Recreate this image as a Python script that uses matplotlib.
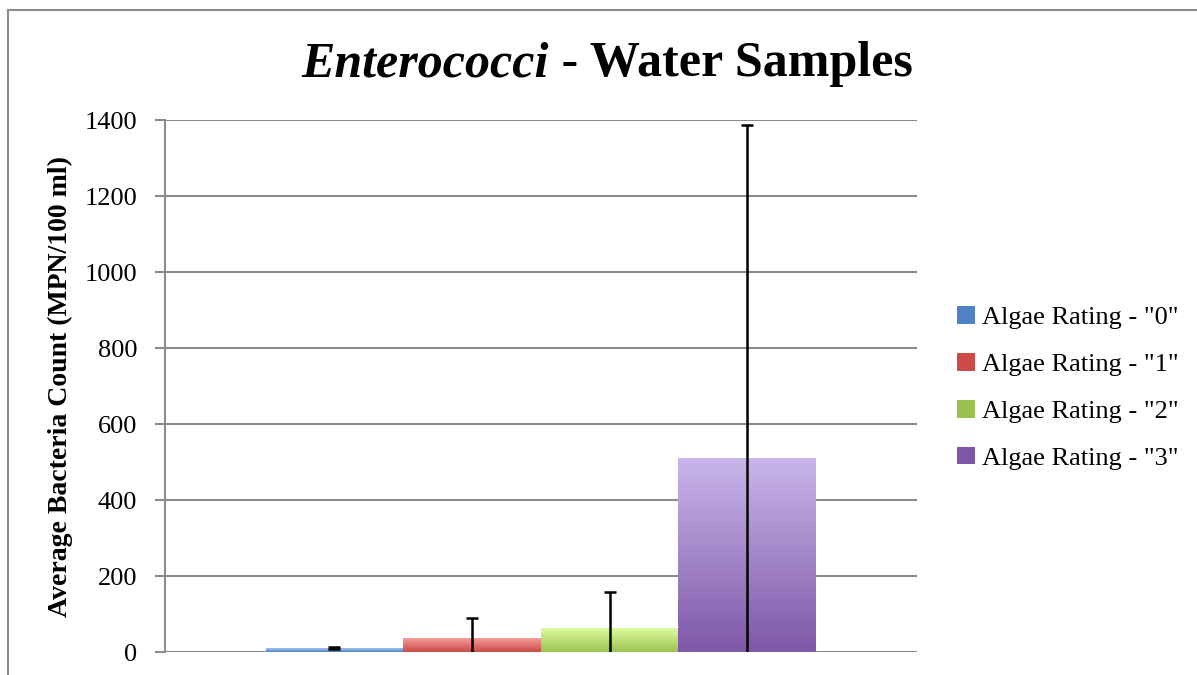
import numpy as np
import matplotlib.pyplot as plt
from matplotlib.colors import LinearSegmentedColormap
from matplotlib.lines import Line2D
from matplotlib.patches import Patch

plt.rcParams['font.family'] = ['Liberation Serif', 'DejaVu Serif']

# data
labels = ['Algae Rating - "0"', 'Algae Rating - "1"', 'Algae Rating - "2"', 'Algae Rating - "3"']
means = [10, 37, 63, 510]
errs = [3, 52, 96, 877]
yticks = [0, 200, 400, 600, 800, 1000, 1200, 1400]

# (top colour, bottom colour) for the gradient fills
grads = [('#a6c8f7', '#4f81c4'),
         ('#f9a3a1', '#cc4a47'),
         ('#dcfca0', '#9bc24f'),
         ('#c9b5ea', '#7e58a8')]

fig = plt.figure(figsize=(11.97, 6.75), dpi=100)
ax = fig.add_axes([0.1378, 0.034, 0.628, 0.788])

w = 0.183
xs = (np.arange(len(means)) - 1.5) * w
bars = ax.bar(xs, means, width=w, color='none', edgecolor='none', zorder=3)

grad = np.linspace(0, 1, 256).reshape(-1, 1)
for b, (top, bot) in zip(bars, grads):
    cmap = LinearSegmentedColormap.from_list('g', [top, bot])
    x0, y0 = b.get_x(), b.get_y()
    im = ax.imshow(grad, cmap=cmap, aspect='auto', origin='upper',
                   extent=[x0, x0 + b.get_width(), y0, y0 + b.get_height()],
                   zorder=3)
    im.set_clip_path(b)

ax.errorbar(xs, means, yerr=errs, fmt='none', ecolor='black', elinewidth=1.8,
            capsize=4.5, capthick=1.8, zorder=5)

ax.set_xlim(-0.5, 0.5)
ax.set_ylim(0, 1400)
ax.set_yticks(yticks)
ax.set_xticks([])
ax.yaxis.grid(True, color='#8c8c8c', linewidth=1.5, zorder=0)
ax.set_axisbelow(True)
for s in ['top', 'right', 'bottom']:
    ax.spines[s].set_visible(False)
ax.spines['left'].set_color('#8c8c8c')
ax.spines['left'].set_linewidth(1.5)
ax.tick_params(axis='y', length=7, width=1.5, color='#8c8c8c', labelsize=19, pad=13)
ax.set_ylabel('Average Bacteria Count (MPN/100 ml)', fontsize=20, fontweight='bold', labelpad=8)

handles = [Patch(facecolor=c[1], edgecolor='none') for c in grads]
fig.legend(handles, labels, loc='center left', bbox_to_anchor=(0.78, 0.425), frameon=False,
           fontsize=19, handlelength=0.65, handleheight=0.65, handletextpad=0.3, labelspacing=0.9)

t1 = fig.text(0.25, 0.887, 'Enterococci', fontsize=36, fontweight='bold', fontstyle='italic',
              va='baseline', ha='left')
t2 = ax.annotate(' - Water Samples', xy=(1, 0), xycoords=t1, fontsize=36, fontweight='bold',
                 va='bottom', ha='left', annotation_clip=False)
fig.canvas.draw()
r = fig.canvas.get_renderer()
b1 = t1.get_window_extent(r)
b2 = t2.get_window_extent(r)
tw = (b2.x1 - b1.x0) / fig.bbox.width
t1.set_x(607 / 1197 - tw / 2)

# outer chart border
fig.add_artist(Line2D([0.007, 0.007], [0, 0.985], color='#8c8c8c', linewidth=1.5))
fig.add_artist(Line2D([0.007, 1], [0.985, 0.985], color='#8c8c8c', linewidth=1.5))

fig.savefig('out.png', dpi=100)
